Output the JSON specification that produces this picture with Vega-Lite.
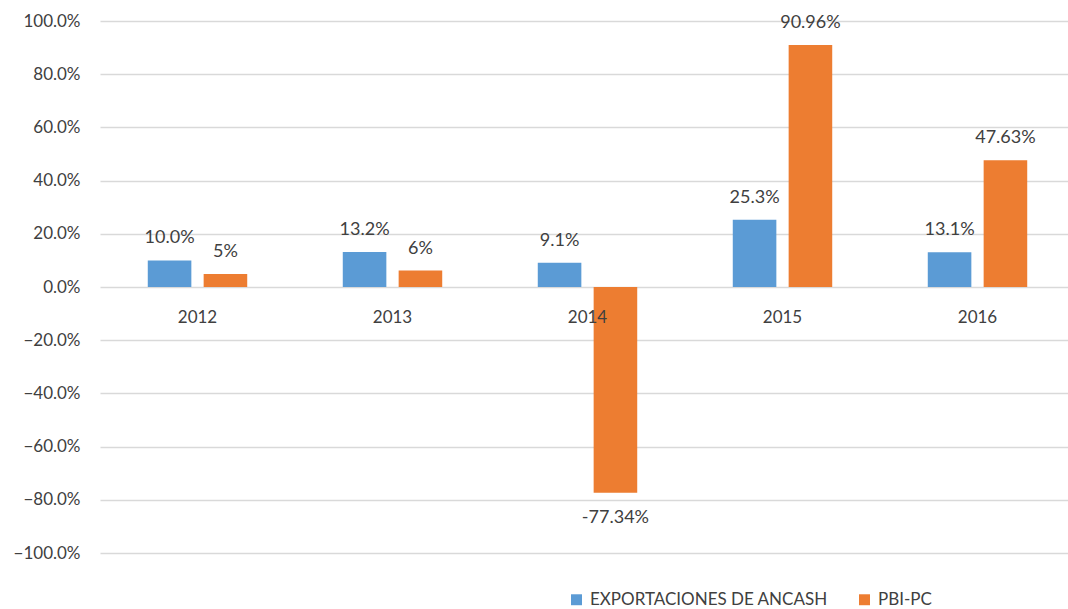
{
  "$schema": "https://vega.github.io/schema/vega-lite/v6.json",
  "autosize": {"type": "none"},
  "padding": {"left": 100, "top": 21, "right": 0, "bottom": 56},
  "width": 968,
  "height": 532,
  "background": "white",
  "config": {
    "font": "Lato",
    "view": {"stroke": null}
  },
  "data": {
    "values": [
      {"year": "2012", "series": "EXPORTACIONES DE ANCASH", "value": 0.100, "label": "10.0%"},
      {"year": "2012", "series": "PBI-PC", "value": 0.049, "label": "5%"},
      {"year": "2013", "series": "EXPORTACIONES DE ANCASH", "value": 0.132, "label": "13.2%"},
      {"year": "2013", "series": "PBI-PC", "value": 0.062, "label": "6%"},
      {"year": "2014", "series": "EXPORTACIONES DE ANCASH", "value": 0.091, "label": "9.1%"},
      {"year": "2014", "series": "PBI-PC", "value": -0.7734, "label": "-77.34%"},
      {"year": "2015", "series": "EXPORTACIONES DE ANCASH", "value": 0.253, "label": "25.3%"},
      {"year": "2015", "series": "PBI-PC", "value": 0.9096, "label": "90.96%"},
      {"year": "2016", "series": "EXPORTACIONES DE ANCASH", "value": 0.131, "label": "13.1%"},
      {"year": "2016", "series": "PBI-PC", "value": 0.4763, "label": "47.63%"}
    ]
  },
  "encoding": {
    "x": {
      "field": "year", "type": "nominal",
      "scale": {"paddingInner": 0.49, "paddingOuter": 0.245, "range": [0, 975]},
      "axis": null
    }
  },
  "layer": [
    {
      "mark": {"type": "bar"},
      "encoding": {
        "xOffset": {"field": "series", "type": "nominal", "scale": {"paddingInner": 0.22, "domain": ["EXPORTACIONES DE ANCASH", "PBI-PC"]}},
        "y": {
          "field": "value", "type": "quantitative",
          "scale": {"domain": [-1, 1], "nice": false, "zero": true},
          "axis": {
            "values": [-1, -0.8, -0.6, -0.4, -0.2, 0, 0.2, 0.4, 0.6, 0.8, 1],
            "format": ".1%",
            "title": null,
            "domain": false,
            "ticks": false,
            "labelPadding": 20,
            "labelFont": "Lato",
            "labelFontSize": 17,
            "labelColor": "#404040",
            "gridColor": "#d9d9d9",
            "gridWidth": 1.5
          }
        },
        "color": {
          "field": "series", "type": "nominal",
          "scale": {"domain": ["EXPORTACIONES DE ANCASH", "PBI-PC"], "range": ["#5B9BD5", "#ED7D31"]},
          "legend": {
            "title": null,
            "orient": "none",
            "direction": "horizontal",
            "legendX": 468,
            "legendY": 570,
            "symbolType": "square",
            "symbolSize": 120,
            "symbolStrokeWidth": 0,
            "labelFont": "Lato",
            "labelFontSize": 17,
            "labelColor": "#404040",
            "labelLimit": 0,
            "columnPadding": 28,
            "labelOffset": 5
          }
        }
      }
    },
    {
      "transform": [{"filter": "datum.value >= 0"}],
      "mark": {"type": "text", "baseline": "bottom", "dy": -13, "font": "Lato", "fontSize": 18, "color": "#404040"},
      "encoding": {
        "xOffset": {"field": "series", "type": "nominal"},
        "y": {"field": "value", "type": "quantitative"},
        "text": {"field": "label"}
      }
    },
    {
      "transform": [{"filter": "datum.value < 0"}],
      "mark": {"type": "text", "baseline": "top", "dy": 16, "font": "Lato", "fontSize": 18, "color": "#404040"},
      "encoding": {
        "xOffset": {"field": "series", "type": "nominal"},
        "y": {"field": "value", "type": "quantitative"},
        "text": {"field": "label"}
      }
    },
    {
      "transform": [{"filter": "datum.series === 'EXPORTACIONES DE ANCASH'"}],
      "mark": {"type": "text", "baseline": "middle", "dy": 31, "font": "Lato", "fontSize": 17, "color": "#404040"},
      "encoding": {
        "y": {"datum": 0, "type": "quantitative"},
        "text": {"field": "year"}
      }
    }
  ]
}
